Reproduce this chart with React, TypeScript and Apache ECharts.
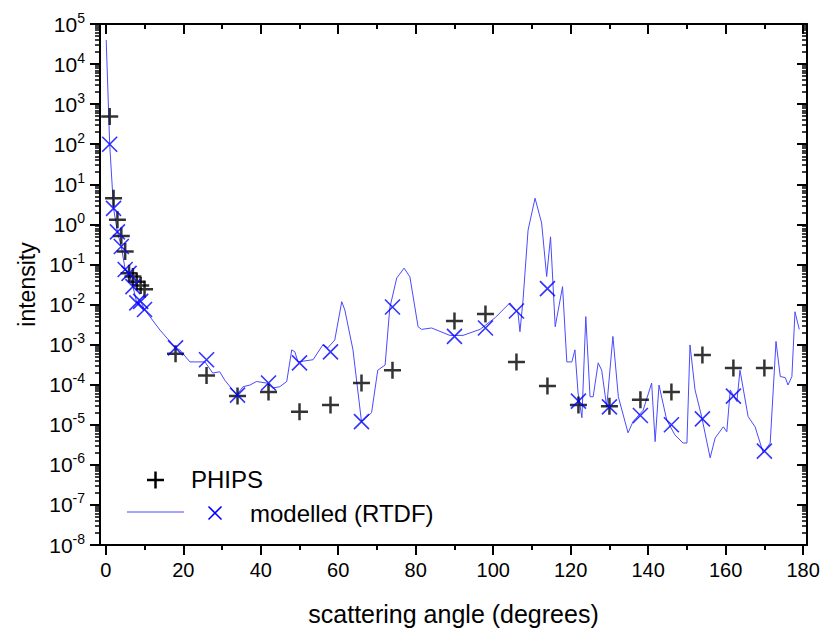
import React, { useEffect, useRef } from "react";
import * as echarts from "echarts";

// ---- tick values ----
const xMajorTicks = [0, 20, 40, 60, 80, 100, 120, 140, 160, 180];
const xMinorTicks = [10, 30, 50, 70, 90, 110, 130, 150, 170];
const yExponents = [-8, -7, -6, -5, -4, -3, -2, -1, 0, 1, 2, 3, 4, 5];

// ---- PHIPS measurements (black +) ----
const phipsAngle = [1, 2, 3, 4, 5, 6, 7, 8, 9, 10, 18, 26, 34, 42, 50, 58, 66, 74, 90, 98, 106, 114, 122, 130, 138, 146, 154, 162, 170];
const phipsIntensity = [
  490, 4.5, 1.3, 0.51, 0.21, 0.06, 0.05, 0.037, 0.03, 0.024,
  5.9e-4, 1.7e-4, 5.2e-5, 6.6e-5, 2.1e-5, 3.1e-5, 1.1e-4, 2.3e-4,
  3.9e-3, 5.8e-3, 3.7e-4, 9.3e-5, 3.1e-5, 2.9e-5, 4.2e-5, 6.6e-5,
  5.5e-4, 2.6e-4, 2.6e-4,
];

// ---- modelled (RTDF) at detector angles (blue x) ----
const modelAngle = [1, 2, 3, 4, 5, 6, 7, 8, 9, 10, 18, 26, 34, 42, 50, 58, 66, 74, 90, 98, 106, 114, 122, 130, 138, 146, 154, 162, 170];
const modelIntensity = [
  100, 2.5, 0.65, 0.28, 0.075, 0.06, 0.028, 0.011, 0.012, 0.0075,
  8.3e-4, 4.2e-4, 5.5e-5, 1.1e-4, 3.5e-4, 6.6e-4, 1.2e-5, 8.7e-3,
  1.6e-3, 2.6e-3, 6.9e-3, 0.025, 3.9e-5, 2.8e-5, 1.7e-5, 1.0e-5,
  1.4e-5, 5.2e-5, 2.2e-6,
];

// ---- modelled (RTDF) continuous curve (blue line) ----
const curveAngle = [
  0.1, 1, 2, 3, 4, 5, 6, 7, 8, 9, 10, 14, 18, 19.1, 21.7, 25.6, 27.6, 29.4, 30.7, 33.8,
  35.4, 37.2, 38.9, 41.5, 43.1, 44.9, 46.7, 48.0, 48.8, 49.6, 53.5, 56.0, 57.3, 59.1, 60.9,
  61.7, 63.8, 66.0, 68.6, 70.2, 72.1, 73.3, 75.1, 77.0, 78.5, 80.6, 81.5, 84.1, 88.8, 92.2,
  96.6, 100.5, 104.3, 106.4, 106.9, 107.7, 109.0, 110.8, 112.5, 113.8, 114.8, 116.0, 117.9,
  119.0, 120.3, 121.1, 121.9, 122.9, 123.9, 125.0, 125.8, 127.1, 128.0, 129.3, 130.9, 132.3,
  134.8, 136.1, 138.7, 140.9, 141.8, 142.8, 144.8, 146.9, 149.0, 150.0, 150.8, 152.1, 153.8,
  156.0, 157.3, 159.4, 160.3, 161.2, 162.9, 163.7, 165.8, 167.6, 169.7, 171.5, 173.0, 174.1,
  175.4, 176.1, 177.1, 177.9, 179.0,
];
const curveIntensity = [
  4e4, 100, 2.5, 0.65, 0.28, 0.075, 0.06, 0.028, 0.011, 0.012, 0.0075, 2.3e-3, 8.3e-4, 7.4e-4, 3.7e-4, 3.7e-4, 1.95e-4, 2.1e-4, 1.3e-4, 5.5e-5,
  8.9e-5, 9.8e-5, 1.2e-4, 1.1e-4, 8.3e-5, 8.9e-5, 1.2e-4, 7.4e-4, 6.6e-4, 3.7e-4, 4.2e-4, 9.8e-4, 8.3e-4, 1.3e-3, 0.0118,
  7.3e-3, 7.4e-4, 1.2e-5, 2.0e-5, 2.3e-4, 3.1e-4, 8.2e-3, 0.046, 0.081, 0.049, 2.8e-3, 2.4e-3, 2.6e-3, 1.7e-3, 1.7e-3,
  2.4e-3, 4.7e-3, 0.011, 6.2e-3, 2.1e-3, 0.013, 0.72, 4.5, 1.08, 0.05, 0.49, 2.8e-3, 0.028,
  3.7e-4, 3.7e-4, 7.4e-4, 6.2e-5, 1.5e-5, 5.0e-3, 5.0e-5, 5.0e-5, 3.5e-4, 2.3e-4, 2.8e-5, 1.6e-3, 5.0e-5,
  6.3e-6, 1.2e-5, 2.3e-5, 1.1e-4, 3.8e-6, 9.8e-5, 1.3e-5, 5.6e-6, 3.5e-6, 3.5e-6, 9.8e-4, 7.4e-5, 1.6e-5,
  1.5e-6, 4.7e-6, 8.9e-6, 6.7e-6, 7.4e-5, 3.8e-5, 2.3e-4, 1.6e-5, 8.9e-6, 2.0e-6, 3.5e-6, 1.2e-3, 1.6e-4,
  1.5e-4, 9.8e-5, 1.6e-4, 6.6e-3, 2.4e-3,
];

const FONT = "'Liberation Sans', Arial, sans-serif";
const LINE_COLOR = "#4a4aff";

export default function App() {
  const ref = useRef<HTMLDivElement>(null);

  useEffect(() => {
    const chart = echarts.init(ref.current!, null, { renderer: "svg" });

    const yMinorLog: number[] = [];
    for (let i = 0; i < yExponents.length - 1; i++) {
      for (let k = 2; k <= 9; k++) yMinorLog.push(yExponents[i] + Math.log10(k));
    }
    const yMin = Math.pow(10, yExponents[0]);
    const yMax = Math.pow(10, yExponents[yExponents.length - 1]);

    const noSplit = { show: false };
    const hiddenLine = { show: false, onZero: false };
    const blackLine = { show: true, onZero: false, lineStyle: { color: "#000", width: 2 } };

    const xCommon = { type: "value", min: -1.5, max: 181, splitLine: noSplit };
    const expCommon = {
      type: "value",
      min: yExponents[0],
      max: yExponents[yExponents.length - 1],
      interval: 1,
      splitLine: noSplit,
    };

    const option: any = {
      animation: false,
      grid: { left: 100, top: 24, width: 707, height: 521, containLabel: false },
      xAxis: [
        {
          ...xCommon,
          position: "bottom",
          name: "scattering angle (degrees)",
          nameLocation: "middle",
          nameGap: 56,
          nameTextStyle: { fontSize: 25, fontFamily: FONT, color: "#000" },
          axisLine: blackLine,
          axisTick: { show: true, inside: false, length: 10, customValues: xMajorTicks, lineStyle: { color: "#000", width: 2 } },
          axisLabel: { show: true, customValues: xMajorTicks, margin: 15, fontSize: 20, fontFamily: FONT, color: "#000" },
        },
        {
          ...xCommon,
          position: "bottom",
          axisLine: hiddenLine,
          axisTick: { show: true, inside: false, length: 5, customValues: xMinorTicks, lineStyle: { color: "#000", width: 2 } },
          axisLabel: { show: false },
        },
        {
          ...xCommon,
          position: "top",
          axisLine: blackLine,
          axisTick: { show: true, inside: true, length: 10, customValues: xMajorTicks, lineStyle: { color: "#000", width: 2 } },
          axisLabel: { show: false },
        },
        {
          ...xCommon,
          position: "top",
          axisLine: hiddenLine,
          axisTick: { show: true, inside: true, length: 5, customValues: xMinorTicks, lineStyle: { color: "#000", width: 2 } },
          axisLabel: { show: false },
        },
      ],
      yAxis: [
        {
          // data axis (log)
          type: "log",
          logBase: 10,
          min: yMin,
          max: yMax,
          position: "left",
          name: "intensity",
          nameLocation: "middle",
          nameGap: 62,
          nameTextStyle: { fontSize: 23, fontFamily: FONT, color: "#000" },
          splitLine: noSplit,
          axisLine: blackLine,
          axisTick: { show: false },
          axisLabel: { show: false },
        },
        {
          // decade ticks + labels (exponent space)
          ...expCommon,
          position: "left",
          axisLine: hiddenLine,
          axisTick: { show: true, inside: false, length: 10, lineStyle: { color: "#000", width: 2 } },
          axisLabel: {
            show: true,
            margin: 15,
            formatter: (v: number) => `{b|10}{s|${Math.round(v)}}`,
            rich: {
              b: { fontSize: 21, fontFamily: FONT, color: "#000" },
              s: { fontSize: 14, fontFamily: FONT, color: "#000", padding: [0, 0, 13, 0] },
            },
          },
        },
        {
          ...expCommon,
          position: "left",
          axisLine: hiddenLine,
          axisTick: { show: true, inside: false, length: 5, customValues: yMinorLog, lineStyle: { color: "#000", width: 1.5 } },
          axisLabel: { show: false },
        },
        {
          ...expCommon,
          position: "right",
          axisLine: blackLine,
          axisTick: { show: true, inside: true, length: 10, lineStyle: { color: "#000", width: 2 } },
          axisLabel: { show: false },
        },
        {
          ...expCommon,
          position: "right",
          axisLine: hiddenLine,
          axisTick: { show: true, inside: true, length: 5, customValues: yMinorLog, lineStyle: { color: "#000", width: 1.5 } },
          axisLabel: { show: false },
        },
      ],
      series: [
        {
          name: "modelled (RTDF)",
          type: "line",
          xAxisIndex: 0,
          yAxisIndex: 0,
          data: curveAngle.map((a, i) => [a, curveIntensity[i]]),
          showSymbol: false,
          symbol: "none",
          lineStyle: { color: LINE_COLOR, width: 1 },
          z: 2,
        },
        {
          name: "PHIPS",
          type: "scatter",
          xAxisIndex: 0,
          yAxisIndex: 0,
          data: phipsAngle.map((a, i) => [a, phipsIntensity[i]]),
          symbol: "path://M5,0L5,10M0,5L10,5",
          symbolSize: 17,
          itemStyle: { color: "rgba(0,0,0,0)", borderColor: "#000", borderWidth: 2.5 },
          z: 3,
        },
        {
          name: "modelled (RTDF) points",
          type: "scatter",
          xAxisIndex: 0,
          yAxisIndex: 0,
          data: modelAngle.map((a, i) => [a, modelIntensity[i]]),
          symbol: "path://M0,0L10,10M10,0L0,10",
          symbolSize: 15,
          itemStyle: { color: "rgba(0,0,0,0)", borderColor: "#0000ff", borderWidth: 1.6 },
          z: 4,
        },
      ],
      graphic: [
        { type: "line", shape: { x1: 147, y1: 480, x2: 164, y2: 480 }, style: { stroke: "#000", lineWidth: 2.5 } },
        { type: "line", shape: { x1: 155.5, y1: 471.5, x2: 155.5, y2: 488.5 }, style: { stroke: "#000", lineWidth: 2.5 } },
        {
          type: "text", x: 191, y: 479,
          style: { text: "PHIPS", fontSize: 24, fontFamily: FONT, fill: "#000", verticalAlign: "middle", align: "left" },
        },
        { type: "line", shape: { x1: 127, y1: 512, x2: 184, y2: 512 }, style: { stroke: LINE_COLOR, lineWidth: 1 } },
        { type: "line", shape: { x1: 208.5, y1: 506.5, x2: 221.5, y2: 519.5 }, style: { stroke: "#0000ff", lineWidth: 1.6 } },
        { type: "line", shape: { x1: 221.5, y1: 506.5, x2: 208.5, y2: 519.5 }, style: { stroke: "#0000ff", lineWidth: 1.6 } },
        {
          type: "text", x: 250, y: 513,
          style: { text: "modelled (RTDF)", fontSize: 24, fontFamily: FONT, fill: "#000", verticalAlign: "middle", align: "left" },
        },
      ],
    };

    chart.setOption(option);
    return () => chart.dispose();
  }, []);

  return (
    <div
      ref={ref}
      style={{ position: "absolute", left: 0, top: 0, width: 824, height: 635, background: "#fff" }}
    />
  );
}
